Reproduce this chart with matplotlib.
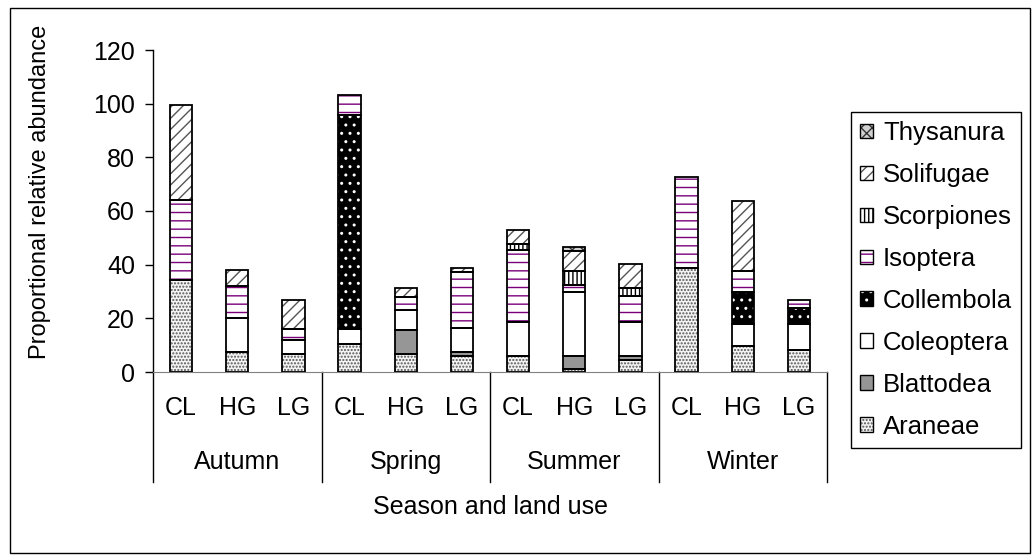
import numpy as np
import matplotlib.pyplot as plt
from matplotlib.patches import Patch, Rectangle
from matplotlib.legend_handler import HandlerTuple
import matplotlib.transforms as mtransforms

plt.rcParams['font.family'] = ['Liberation Sans', 'DejaVu Sans']
plt.rcParams['hatch.linewidth'] = 1.0

seasons = ['Autumn', 'Spring', 'Summer', 'Winter']
land_uses = ['CL', 'HG', 'LG']

# stacked from the bottom up; one value per season/land use pair
araneae    = [34.3, 7.5, 6.6, 10.4, 6.6, 5.9, 5.9, 1.0, 4.4, 38.7, 9.6, 8.3]
blattodea  = [0.0, 0.0, 0.0, 0.0, 9.0, 1.5, 0.0, 4.9, 1.5, 0.0, 0.0, 0.0]
coleoptera = [0.0, 12.5, 5.5, 5.8, 7.5, 9.1, 12.8, 24.0, 12.8, 0.0, 8.2, 9.5]
collembola = [0.0, 0.0, 0.0, 79.4, 0.0, 0.0, 0.0, 0.0, 0.0, 0.0, 12.1, 5.9]
isoptera   = [29.9, 12.0, 4.1, 7.5, 5.0, 20.9, 26.8, 2.5, 9.6, 34.1, 7.9, 3.3]
scorpiones = [0.0, 0.0, 0.0, 0.0, 0.0, 0.0, 2.3, 5.3, 2.9, 0.0, 0.0, 0.0]
solifugae  = [35.2, 6.0, 10.6, 0.0, 3.3, 1.5, 5.2, 7.5, 9.0, 0.0, 25.8, 0.0]
thysanura  = [0.0, 0.0, 0.0, 0.0, 0.0, 0.0, 0.0, 1.3, 0.0, 0.0, 0.0, 0.0]

orders = ['Araneae', 'Blattodea', 'Coleoptera', 'Collembola',
          'Isoptera', 'Scorpiones', 'Solifugae', 'Thysanura']
series = [araneae, blattodea, coleoptera, collembola,
          isoptera, scorpiones, solifugae, thysanura]

# (face, hatch, hatch colour) for each order
styles = {
    'Araneae':    ('#f4f4f4', '.....', '#555555'),
    'Blattodea':  ('#969696', '', '#969696'),
    'Coleoptera': ('white', '', 'white'),
    'Collembola': ('black', '..', 'white'),
    'Isoptera':   ('white', '--', '#7a007a'),
    'Scorpiones': ('white', '||||', 'black'),
    'Solifugae':  ('white', '///', '#555555'),
    'Thysanura':  ('#d0d0d0', 'xxx', '#333333'),
}

fs = 18

fig = plt.figure(figsize=(10.32, 5.55), dpi=100)
ax = fig.add_axes([153 / 1032, 1 - 372 / 555, (827 - 153) / 1032, 322 / 555])

x = np.arange(len(seasons) * len(land_uses))
width = 0.4
bottom = np.zeros(len(x))
handles = []
for name, vals in zip(orders, series):
    vals = np.array(vals)
    face, hatch, hcol = styles[name]
    ax.bar(x, vals, width, bottom=bottom, color=face, hatch=hatch,
           edgecolor=hcol, linewidth=0, zorder=2)
    # outline drawn separately so the hatch can keep its own colour
    keep = vals > 0
    ax.bar(x[keep], vals[keep], width, bottom=bottom[keep], fill=False,
           edgecolor='black', linewidth=1.3, zorder=3)
    bottom += vals
    handles.append((Patch(facecolor=face, hatch=hatch, edgecolor=hcol, linewidth=0),
                    Patch(fill=False, edgecolor='black', linewidth=1.0)))

ax.set_xlim(-0.5, len(x) - 0.5)
ax.set_ylim(0, 120)
ax.set_yticks(np.arange(0, 121, 20))
ax.tick_params(axis='y', direction='out', length=6, width=1, labelsize=fs, pad=7)
ax.set_xticks([])
for side in ['top', 'right']:
    ax.spines[side].set_visible(False)
ax.spines['bottom'].set_color('#808080')
ax.spines['left'].set_linewidth(1.0)

# two-level category axis under the bars
trans = mtransforms.blended_transform_factory(ax.transData, ax.transAxes)
for i, lu in enumerate(land_uses * len(seasons)):
    ax.text(x[i], -0.112, lu, transform=trans, ha='center', va='center', fontsize=fs)
for j, s in enumerate(seasons):
    ax.text(j * 3 + 1, -0.28, s, transform=trans, ha='center', va='center', fontsize=fs)
for b in np.arange(len(seasons) + 1) * 3 - 0.5:
    ax.plot([b, b], [0, -0.342], transform=trans, color='black', lw=1.0,
            clip_on=False, zorder=1)
ax.text(0.5, -0.42, 'Season and land use', transform=ax.transAxes,
        ha='center', va='center', fontsize=fs)

fig.text(40 / 1032, 1 - 192 / 555, 'Proportional relative abundance',
         rotation=90, ha='center', va='center', fontsize=17)

leg = fig.legend(handles[::-1], orders[::-1],
                 handler_map={tuple: HandlerTuple(ndivide=1)},
                 loc='upper left', bbox_to_anchor=(851 / 1032, 1 - 112 / 555),
                 frameon=True, fancybox=False, edgecolor='black', framealpha=1,
                 fontsize=18.5, handlelength=0.5, handleheight=0.5,
                 handletextpad=0.4, labelspacing=0.7, borderpad=0.35,
                 borderaxespad=0)
leg.get_frame().set_linewidth(1.0)

# border around the whole chart area
fig.add_artist(Rectangle((10 / 1032, 2 / 555), 1020 / 1032, 545 / 555,
                         transform=fig.transFigure, fill=False,
                         edgecolor='black', linewidth=1.0))

fig.savefig('out.png', dpi=100)
